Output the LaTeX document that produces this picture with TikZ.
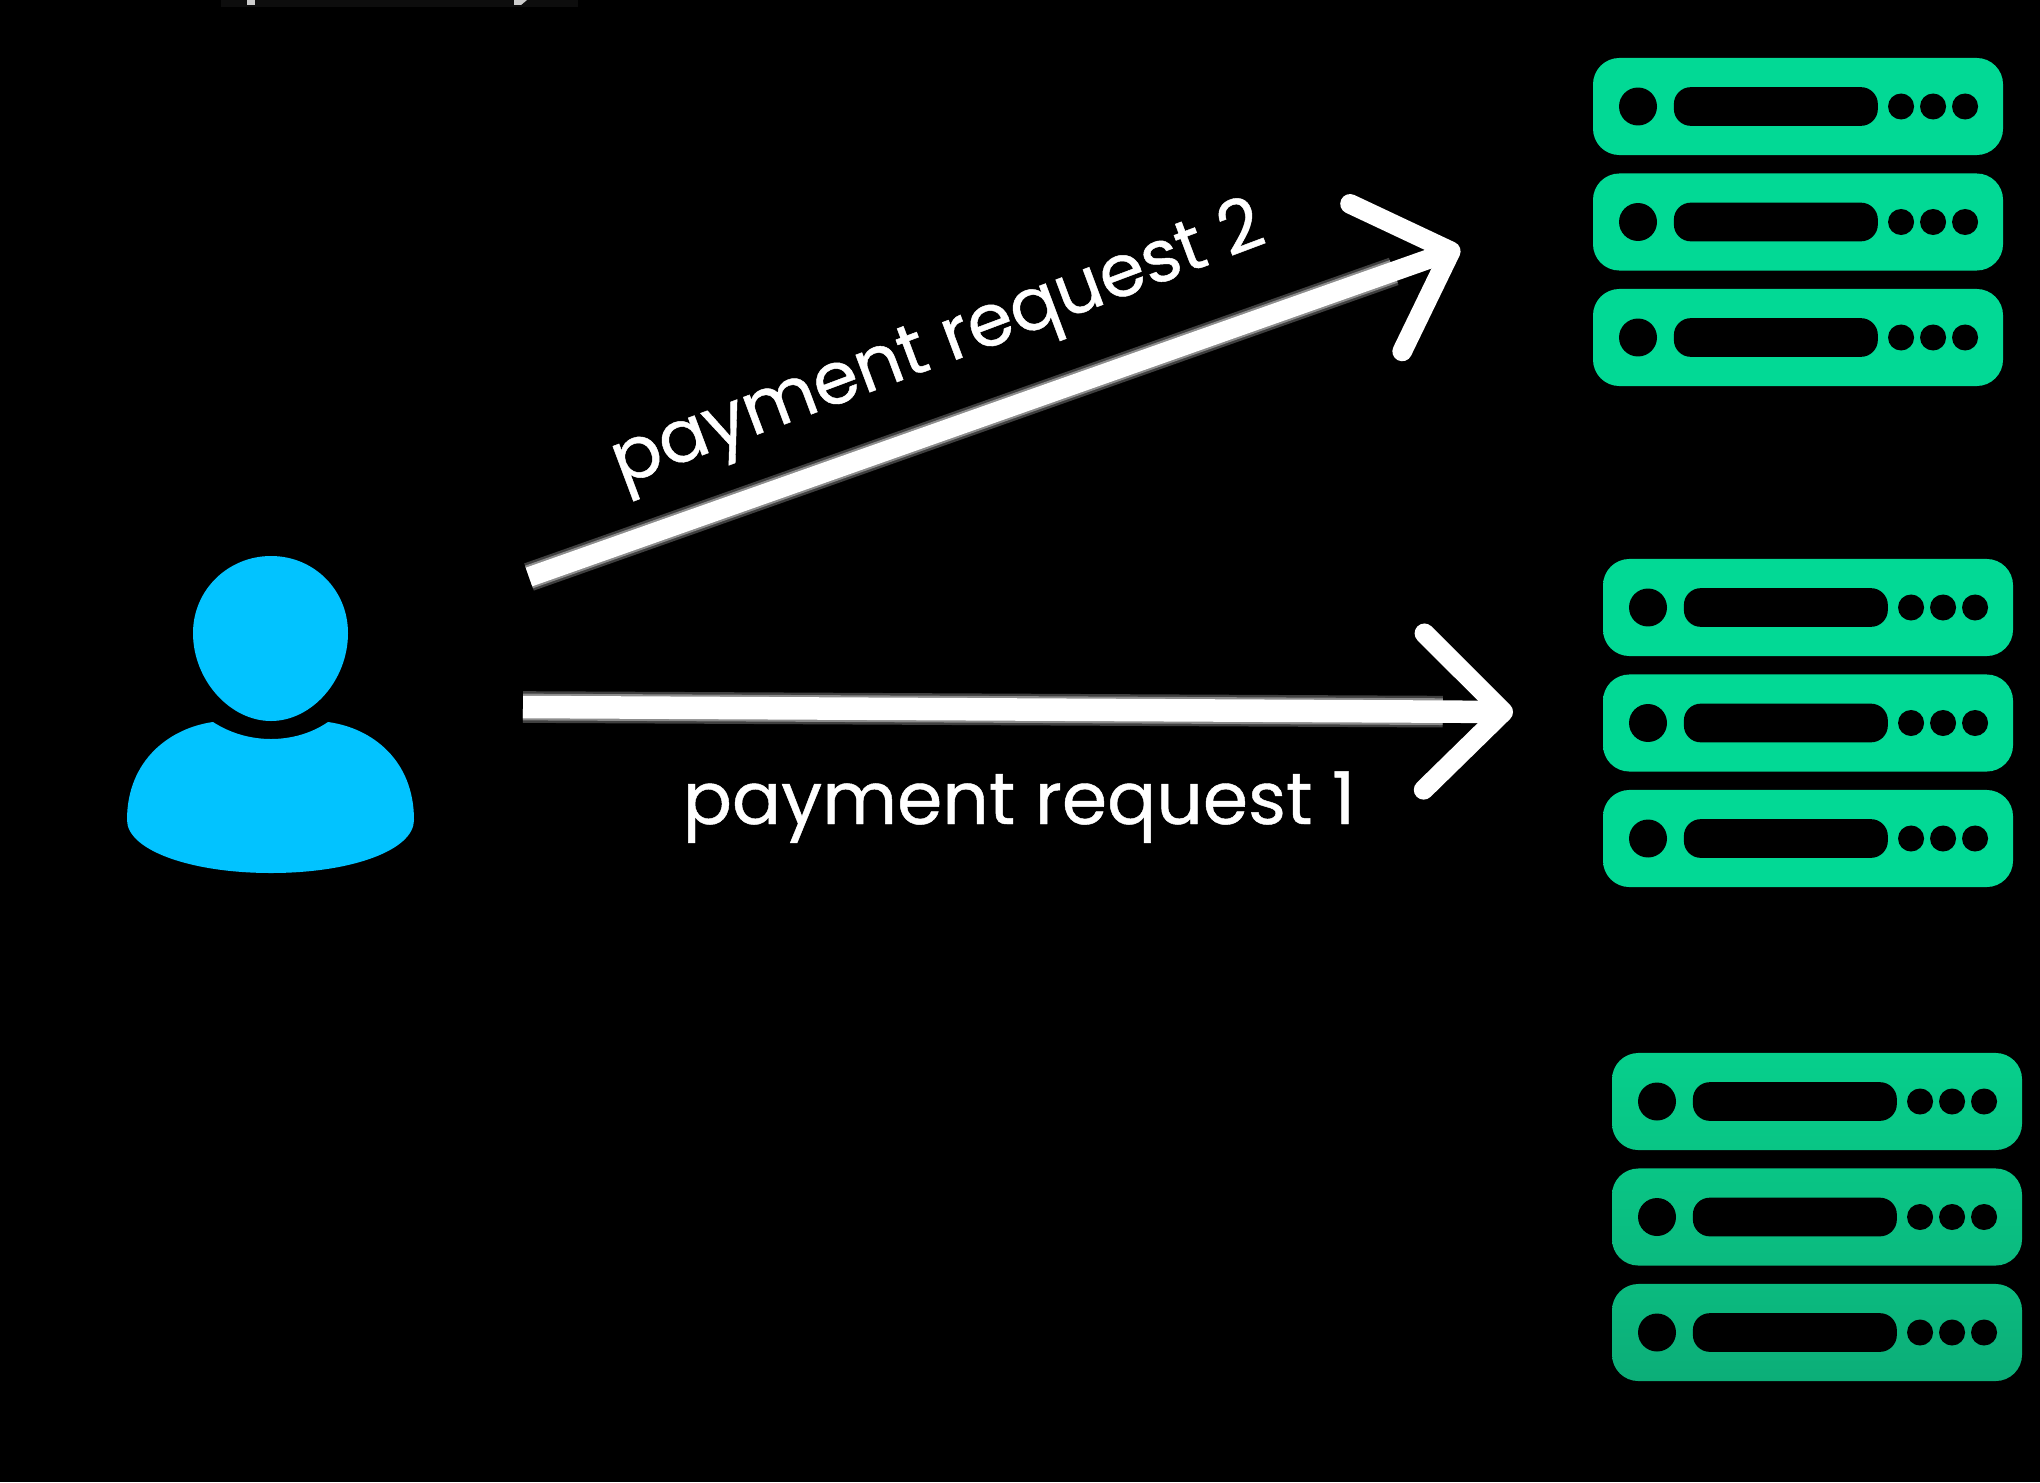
\documentclass[tikz,border=0pt]{standalone}
\usepackage{fontspec}
\setmainfont{Poppins}[FakeBold=0.6]
\usetikzlibrary{arrows.meta}

\definecolor{usercyan}{HTML}{02C3FF}
\definecolor{rackgreen}{HTML}{02D995}
\definecolor{fadea}{HTML}{06CF8C}
\definecolor{fadeb}{HTML}{09C585}
\definecolor{fadec}{HTML}{0BBA7F}
\definecolor{faded}{HTML}{0CAE78}

\tikzset{
  rackbar/.style={draw=none, rectangle, rounded corners=7.5pt,
                  minimum width=116.6pt, minimum height=27.6pt, inner sep=0pt},
  rackslot/.style={draw=none, fill=black, rectangle, rounded corners=4.8pt,
                   minimum width=58pt, minimum height=11pt, inner sep=0pt},
  rackled/.style={draw=none, fill=black, circle, minimum size=10.8pt, inner sep=0pt},
  rackdot/.style={draw=none, fill=black, circle, minimum size=7.4pt, inner sep=0pt},
  reqarrow/.style={draw=white, line width=#1,
                   -{Straight Barb[length=22.5pt, width=44.5pt, line width=5.6pt, round]},
                   preaction={draw=black!75!white, line width=#1+2.6pt, arrows=-, shorten >=20pt},
                   preaction={draw=black!45!white, line width=#1+1.2pt, arrows=-, shorten >=20pt}},
  reqlabel/.style={text=white, inner sep=0pt, anchor=base, font=\fontsize{20.7}{24}\selectfont}
}

\newcommand{\flatrows}{a/0/rackgreen/rackgreen, b/115.5/rackgreen/rackgreen, c/231/rackgreen/rackgreen}
\newcommand{\faderows}{a/0/fadea/fadeb, b/115.5/fadeb/fadec, c/231/fadec/faded}

% one rack: three bars, then the holes of each bar
\newcommand{\rackstack}[4]{
  \foreach \row/\ypos/\topc/\botc in #4 {
    \node[rackbar, top color=\topc, bottom color=\botc] (#1\row) at (#2, #3+\ypos) {};
    \node[rackled]  (#1\row led)  at ([xshift=-45.5pt]#1\row.center) {};
    \node[rackslot] (#1\row slot) at ([xshift=-6.3pt]#1\row.center) {};
    \node[rackdot]  (#1\row dot1) at ([xshift=29.3pt]#1\row.center) {};
    \node[rackdot]  (#1\row dot2) at ([xshift=38.4pt]#1\row.center) {};
    \node[rackdot]  (#1\row dot3) at ([xshift=47.5pt]#1\row.center) {};
  }
}

\begin{document}
\begin{tikzpicture}[x=0.01cm, y=-0.01cm]
  \useasboundingbox (0,0) rectangle (2040,1482);
  \fill[black] (0,0) rectangle (2040,1482);

  % cut off caption at the top edge
  \fill[black!95!white] (221,0) rectangle (578,7);
  \fill[black!20!white] (247,0) rectangle (255,5);
  \fill[black!20!white] (514,0) -- (527,0) -- (521,5) -- (514,5) -- cycle;

  % user
  \node[fill=usercyan, draw=none, circle, inner sep=0pt, minimum size=2pt] (user) at (271,640) {};
  \fill[usercyan] (271,556) .. controls (314,556) and (348,590) .. (348,633)
     .. controls (348,680) and (312,721) .. (271,721)
     .. controls (230,721) and (193,680) .. (193,633)
     .. controls (193,590) and (228,556) .. (271,556) -- cycle;
  \fill[usercyan] (213,722) .. controls (230,733) and (250,739) .. (271,739)
     .. controls (292,739) and (312,733) .. (328,722)
     .. controls (372,728) and (414,760) .. (414,820)
     .. controls (414,850) and (352,873) .. (271,873)
     .. controls (190,873) and (127,850) .. (127,820)
     .. controls (127,760) and (170,728) .. (213,722) -- cycle;

  % racks
  \rackstack{rackone}{1798}{106.5}{\flatrows}
  \rackstack{racktwo}{1808}{607.5}{\flatrows}
  \rackstack{rackthree}{1817}{1101.5}{\faderows}

  % requests
  \coordinate (req1start) at (523,707);
  \coordinate (req1tip)   at (1513,712);
  \coordinate (req2start) at (529,577);
  \coordinate (req2tip)   at (1460,248);

  \draw[reqarrow=6.4pt] (req1start) -- (req1tip);
  \draw[reqarrow=5.6pt] (req2start) -- (req2tip);

  \node[reqlabel] (req1text) at (1019,824) {payment request 1};
  \node[reqlabel, rotate=20.6] (req2text) at (945,364) {payment request 2};
\end{tikzpicture}
\end{document}
